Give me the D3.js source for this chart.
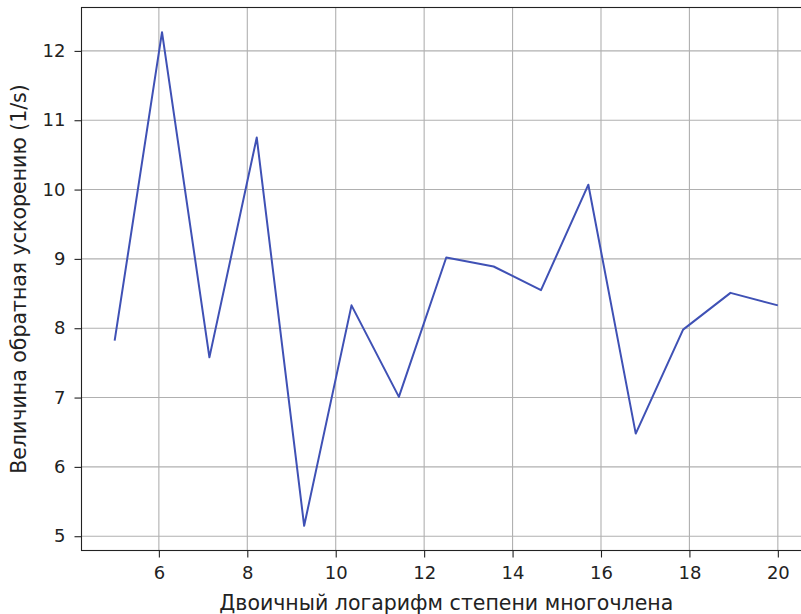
<!DOCTYPE html>
<html>
<head>
<meta charset="utf-8">
<script src="https://cdn.jsdelivr.net/npm/d3@7"></script>
<style>
  html, body { margin: 0; padding: 0; background: #fff; }
  svg { display: block; font-family: "DejaVu Sans", sans-serif; }
</style>
</head>
<body>
<svg id="chart" width="801" height="614"></svg>
<script>
// Binary log of polynomial degree (15 evenly spaced runs from 5 to 20)
const degreeLog = [5, 6.071, 7.143, 8.214, 9.286, 10.357, 11.429, 12.5,
                   13.571, 14.643, 15.714, 16.786, 17.857, 18.929, 20];
// Inverse speedup, 1/s
const inverseSpeedup = [7.82, 12.27, 7.58, 10.75, 5.15, 8.33, 7.01, 9.02,
                        8.89, 8.55, 10.07, 6.48, 7.98, 8.51, 8.33];
const xTicks = [6, 8, 10, 12, 14, 16, 18, 20];
const yTicks = [5, 6, 7, 8, 9, 10, 11, 12];

const xLabel = "Двоичный логарифм степени многочлена";
const yLabel = "Величина обратная ускорению (1/s)";

const svg = d3.select("#chart");
const plot = { left: 81.5, right: 811, top: 7.5, bottom: 550.5 };

// 5% padding around the data range on both axes
function padded(values) {
  const [lo, hi] = d3.extent(values);
  const m = (hi - lo) * 0.05;
  return [lo - m, hi + m];
}

const x = d3.scaleLinear().domain(padded(degreeLog)).range([plot.left, plot.right]);
const y = d3.scaleLinear().domain(padded(inverseSpeedup)).range([plot.bottom, plot.top]);

// grid
const grid = svg.append("g").attr("stroke", "#b0b0b0").attr("stroke-width", 1.1);
grid.selectAll(".gx").data(xTicks).join("line")
  .attr("x1", d => x(d)).attr("x2", d => x(d))
  .attr("y1", plot.top).attr("y2", plot.bottom);
grid.selectAll(".gy").data(yTicks).join("line")
  .attr("y1", d => y(d)).attr("y2", d => y(d))
  .attr("x1", plot.left).attr("x2", plot.right);

// data line
const line = d3.line().x((d, i) => x(degreeLog[i])).y(d => y(d));
svg.append("path")
  .datum(inverseSpeedup)
  .attr("fill", "none")
  .attr("stroke", "#3f51b5")
  .attr("stroke-width", 2)
  .attr("stroke-linejoin", "round")
  .attr("d", line);

// axes
const xAxis = d3.axisBottom(x).tickValues(xTicks).tickSize(7).tickPadding(9).tickSizeOuter(0);
const yAxis = d3.axisLeft(y).tickValues(yTicks).tickSize(7).tickPadding(9).tickSizeOuter(0);

const gx = svg.append("g").attr("transform", `translate(0,${plot.bottom})`).call(xAxis);
const gy = svg.append("g").attr("transform", `translate(${plot.left},0)`).call(yAxis);
[gx, gy].forEach(g => {
  g.select(".domain").remove();
  g.selectAll(".tick line").attr("stroke", "#222").attr("stroke-width", 1.1);
  g.selectAll(".tick text").attr("fill", "#222").style("font-size", "18px")
    .style("font-family", "DejaVu Sans, sans-serif");
});

// spines
svg.append("rect")
  .attr("x", plot.left).attr("y", plot.top)
  .attr("width", plot.right - plot.left).attr("height", plot.bottom - plot.top)
  .attr("fill", "none").attr("stroke", "#222").attr("stroke-width", 1.1);

// axis labels
svg.append("text")
  .attr("x", (plot.left + plot.right) / 2).attr("y", 609.5)
  .attr("text-anchor", "middle")
  .attr("fill", "#222")
  .style("font-size", "20.5px")
  .text(xLabel);

svg.append("text")
  .attr("transform", `translate(25.5,${(plot.top + plot.bottom) / 2}) rotate(-90)`)
  .attr("text-anchor", "middle")
  .attr("fill", "#222")
  .style("font-size", "20.5px")
  .text(yLabel);
</script>
</body>
</html>
